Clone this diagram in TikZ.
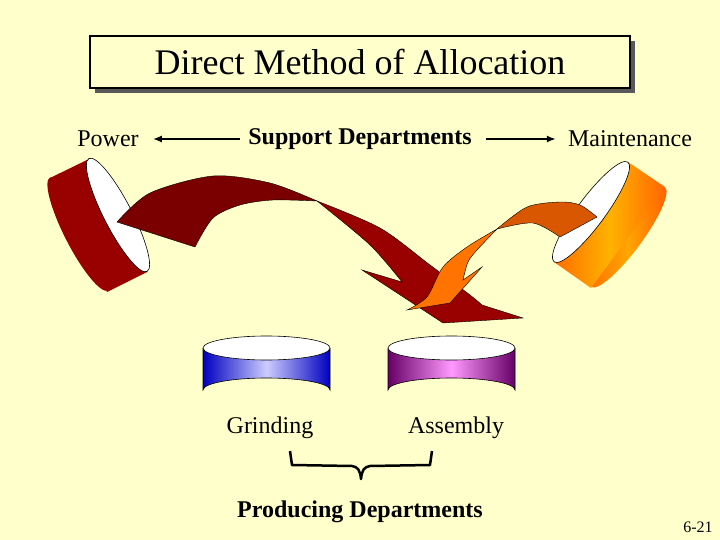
\documentclass[tikz,border=0pt]{standalone}
\usepackage{fontspec}
\setmainfont{Liberation Serif}
\begin{document}
\begin{tikzpicture}[x=1pt,y=-1pt,
  lbl/.style={font=\fontsize{24}{27}\selectfont,inner sep=0pt},
  ribbon/.style={draw=black,line width=0.4pt},
  conn/.style={line width=1.6pt,-{Latex[length=9pt,width=7pt]}}]
\usetikzlibrary{arrows.meta}
\definecolor{bg}{HTML}{FFFFCC}
\fill[bg] (0,0) rectangle (720,540);
\useasboundingbox (0,0) rectangle (720,540);
% title
\fill[gray!70!black] (95,41) rectangle (635,93);
\node[draw=black,line width=1.2pt,fill=bg,minimum width=540pt,minimum height=52pt,inner sep=0pt,
  font=\fontsize{36}{40}\selectfont] (title) at (360,62) {Direct Method of Allocation};
% top labels
\node[lbl] (power) at (108,139) {Power};
\node[lbl,font=\fontsize{24}{27}\selectfont\bfseries] (sup) at (360,139) {Support Departments};
\node[lbl] (maint) at (630,139) {Maintenance};
\draw[conn] (sup.west)++(-8,0) -- ([xshift=14pt]power.east);
\draw[conn] (sup.east)++(14,0) -- ([xshift=-12pt]maint.west);
% left cylinder
\fill[red!60!black] (79,234) ellipse[x radius=63.5, y radius=14, rotate=-62.8];
\fill[red!60!black] (50,178) -- (89,159) -- (147,272) -- (107,292) -- cycle;
\draw[fill=white,line width=0.6pt] (118,215) ellipse[x radius=63.5, y radius=14, rotate=-62.8];
% right cylinder
\shade[left color=orange!85!red,right color=orange!70!red,middle color=orange!70!yellow]
  (628,237) ellipse[x radius=62, y radius=14, rotate=53.5];
\shade[left color=orange!85!red,right color=orange!80!red,middle color=orange!60!yellow]
  (628,162) -- (665,187) -- (591,288) -- (554,262) -- cycle;
\draw[fill=white,line width=0.6pt] (591,212) ellipse[x radius=62, y radius=14, rotate=53.5];
% big red arrow
\fill[ribbon,fill=red!60!black] plot[smooth] coordinates{(317,201) (380,228) (430,265) (470,295) (482,305)}
  -- (523,318) -- (443,323) -- (362,270) -- (402,282)
  -- plot[smooth] coordinates{(402,282) (370,245) (317,201)} -- cycle;
\fill[ribbon,fill=red!48!black] plot[smooth] coordinates{(117,222) (150,193) (213,176) (270,183) (317,201)}
  -- plot[smooth] coordinates{(317,201) (273,200) (240,205) (213,218) (195,247)} -- cycle;
% orange arrow
\fill[ribbon,fill=orange!80!red!85!black] plot[smooth] coordinates{(597,217) (580,205) (560,202) (527,207) (497,229)}
  -- plot[smooth] coordinates{(497,229) (533,223) (560,237)} -- cycle;
\fill[ribbon,fill=orange!90!red] plot[smooth] coordinates{(497,229) (467,247) (443,267) (427,297) (407,310)}
  -- (450,303) -- (482,267) -- (463,280)
  -- plot[smooth] coordinates{(463,280) (468,262) (477,250) (497,229)} -- cycle;
% bottom cylinders
\shade[left color=blue!75!black,right color=blue!75!black,middle color=blue!20!white]
  (203,348) -- (203,390) arc[start angle=180,end angle=360,x radius=63.5,y radius=12] -- (330,348) -- cycle;
\draw[line width=0.6pt] (203,348) -- (203,390) arc[start angle=180,end angle=360,x radius=63.5,y radius=12] -- (330,348);
\draw[fill=white,line width=0.6pt] (266.5,348) ellipse[x radius=63.5,y radius=12];
\shade[left color=violet!80!black,right color=violet!80!black,middle color=magenta!40!white]
  (388,348) -- (388,390) arc[start angle=180,end angle=360,x radius=63.5,y radius=12] -- (515,348) -- cycle;
\draw[line width=0.6pt] (388,348) -- (388,390) arc[start angle=180,end angle=360,x radius=63.5,y radius=12] -- (515,348);
\draw[fill=white,line width=0.6pt] (451.5,348) ellipse[x radius=63.5,y radius=12];
\node[lbl] (grind) at (270,428) {Grinding};
\node[lbl] (assem) at (456,428) {Assembly};
% brace
\draw[line width=2.5pt,line join=round] (290,451) -- (292,465) -- (352,466) .. controls (358,467) and (360,470) .. (361,479)
  .. controls (362,470) and (364,467) .. (370,466) -- (430,465) -- (432,451);
\node[lbl,font=\fontsize{24}{27}\selectfont\bfseries] (prod) at (360,512) {Producing Departments};
\node[font=\fontsize{16}{18}\selectfont,inner sep=0pt] (pg) at (698,527) {6-21};
\end{tikzpicture}
\end{document}
